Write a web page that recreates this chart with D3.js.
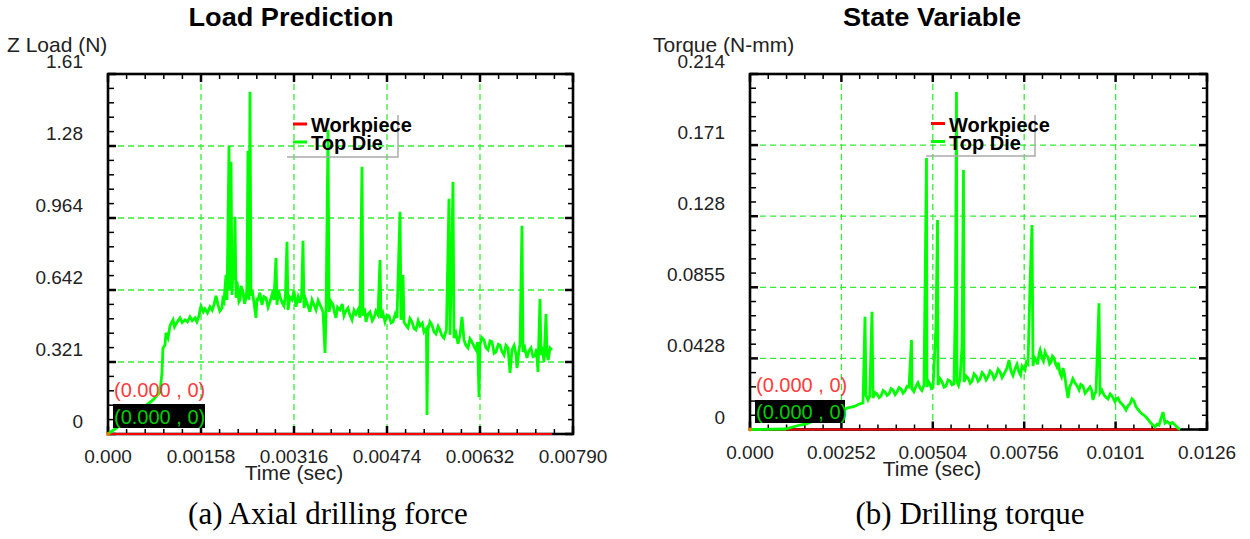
<!DOCTYPE html>
<html><head><meta charset="utf-8">
<script src="https://cdn.jsdelivr.net/npm/d3@7"></script>
<style>body{margin:0;background:#fff;} svg{display:block;}</style>
</head><body>
<svg id="c" width="1250" height="539"></svg>
<script>
// ---------- (a) Axial drilling force : Load Prediction ----------
const loadTime = [0,0.000374,0.000765,0.000883,0.000917,0.000934,0.000968,0.000985,0.001019,0.001053,0.001104,0.00113,0.001155,0.00119,0.001223,0.00126,0.001308,0.00135,0.001393,0.00143,0.001478,0.00151,0.001546,0.001563,0.00158,0.00162,0.001648,0.00169,0.001733,0.00177,0.001801,0.001835,0.001869,0.0019,0.001937,0.00195,0.001971,0.001985,0.002005,0.002015,0.002022,0.002056,0.002065,0.002073,0.00209,0.002107,0.00212,0.002141,0.002158,0.002175,0.00219,0.002209,0.002225,0.002243,0.00226,0.002294,0.00232,0.002344,0.00236,0.002378,0.002395,0.002412,0.002429,0.00245,0.00248,0.002514,0.00253,0.002548,0.00258,0.002616,0.00265,0.002684,0.00272,0.002752,0.00279,0.00282,0.002854,0.002871,0.0029,0.002922,0.00296,0.00299,0.003015,0.003041,0.003058,0.00309,0.003126,0.00316,0.003194,0.00323,0.003262,0.00329,0.003313,0.00333,0.00336,0.003398,0.00343,0.003466,0.0035,0.003534,0.00357,0.003602,0.00363,0.003653,0.003687,0.003704,0.003738,0.003755,0.00379,0.003823,0.00385,0.003873,0.0039,0.003941,0.00398,0.004009,0.00404,0.004077,0.00411,0.004145,0.00418,0.004213,0.00425,0.004281,0.004315,0.004332,0.00436,0.004383,0.00442,0.004451,0.00449,0.004519,0.00455,0.004587,0.004621,0.004638,0.00467,0.004706,0.00474,0.004774,0.00481,0.004842,0.00488,0.00491,0.004961,0.004978,0.005012,0.005029,0.00506,0.005097,0.00513,0.005165,0.0052,0.005233,0.00527,0.005301,0.00534,0.005369,0.00541,0.00542,0.005436,0.00547,0.005504,0.00554,0.005572,0.00561,0.00564,0.00567,0.005708,0.00575,0.005793,0.00581,0.005844,0.005861,0.005878,0.00591,0.005946,0.00598,0.006014,0.006048,0.00608,0.006116,0.00615,0.006184,0.00622,0.006252,0.00628,0.006303,0.00632,0.00635,0.006388,0.00642,0.006456,0.00649,0.006524,0.00656,0.006592,0.00663,0.00666,0.00669,0.006728,0.00676,0.006796,0.00683,0.006864,0.0069,0.006932,0.006949,0.006983,0.007,0.007033,0.00705,0.00708,0.007118,0.00715,0.007186,0.00722,0.007254,0.00728,0.007305,0.007339,0.007356,0.00738,0.007407,0.007441,0.007458,0.00748,0.007509,0.007543];
const loadTopDie = [0,0.071,0.152,0.187,0.272,0.384,0.397,0.451,0.428,0.482,0.509,0.478,0.491,0.505,0.518,0.497,0.509,0.500,0.522,0.505,0.518,0.500,0.527,0.553,0.571,0.545,0.558,0.540,0.567,0.552,0.576,0.616,0.576,0.548,0.562,0.600,0.589,0.640,0.709,0.620,0.598,1.285,0.690,0.643,1.214,0.620,0.720,0.687,0.968,0.607,0.680,0.643,0.590,0.598,0.660,0.629,0.580,0.607,0.650,1.263,0.598,1.526,0.616,0.640,0.585,0.518,0.600,0.598,0.630,0.576,0.612,0.607,0.565,0.589,0.625,0.598,0.785,0.576,0.640,0.611,0.585,0.571,0.620,0.857,0.553,0.610,0.598,0.640,0.567,0.612,0.585,0.625,0.861,0.562,0.600,0.571,0.545,0.598,0.575,0.553,0.595,0.576,0.560,0.544,0.361,0.531,1.356,0.544,0.590,0.576,0.540,0.518,0.565,0.553,0.580,0.527,0.548,0.562,0.530,0.509,0.552,0.535,0.555,0.518,1.191,0.527,0.560,0.500,0.535,0.544,0.505,0.518,0.548,0.531,0.776,0.518,0.540,0.500,0.530,0.527,0.495,0.500,0.535,0.518,0.991,0.509,0.709,0.500,0.485,0.473,0.515,0.500,0.470,0.464,0.505,0.482,0.495,0.455,0.470,0.085,0.464,0.500,0.486,0.455,0.446,0.480,0.464,0.440,0.428,0.465,1.049,0.442,0.857,1.124,0.428,0.450,0.402,0.440,0.522,0.419,0.395,0.384,0.425,0.411,0.390,0.375,0.410,0.165,0.397,0.430,0.419,0.385,0.375,0.415,0.411,0.360,0.366,0.400,0.397,0.370,0.352,0.395,0.384,0.272,0.375,0.395,0.352,0.294,0.375,0.400,0.928,0.366,0.385,0.339,0.370,0.384,0.345,0.348,0.380,0.277,0.602,0.352,0.390,0.321,0.535,0.352,0.330,0.384,0.375];
const loadWorkpieceTime = [0, 0.007543];
const loadWorkpiece = [0, 0];
const loadXTicks = [0, 0.00158, 0.00316, 0.00474, 0.00632, 0.0079];
const loadXLabels = ["0.000", "0.00158", "0.00316", "0.00474", "0.00632", "0.00790"];
const loadYTicks = [0, 0.321, 0.642, 0.963, 1.284, 1.605];
const loadYLabels = ["0", "0.321", "0.642", "0.964", "1.28", "1.61"];

// ---------- (b) Drilling torque : State Variable ----------
const torqueTime = [0,0.000965,0.001379,0.00158,0.001792,0.002,0.002206,0.00235,0.002481,0.002674,0.00279,0.002895,0.003,0.003116,0.003171,0.003198,0.003253,0.0033,0.003364,0.003391,0.00345,0.003502,0.00356,0.003612,0.00367,0.003722,0.00378,0.003832,0.00389,0.003943,0.004,0.004053,0.00411,0.004163,0.00422,0.004274,0.00433,0.004384,0.004453,0.004467,0.00452,0.004577,0.00463,0.004687,0.00474,0.004797,0.004866,0.00488,0.00492,0.004963,0.005,0.005046,0.005128,0.00517,0.005183,0.00524,0.005294,0.00535,0.005404,0.00546,0.005514,0.00557,0.005624,0.005666,0.005693,0.005707,0.00575,0.00579,0.005845,0.005886,0.0059,0.00596,0.006011,0.00607,0.006121,0.00618,0.006231,0.00629,0.006341,0.0064,0.006452,0.00651,0.006562,0.00662,0.006672,0.00673,0.006782,0.00684,0.006893,0.00695,0.007003,0.007086,0.007141,0.007196,0.00725,0.007306,0.00736,0.007417,0.00746,0.007499,0.007582,0.00762,0.007665,0.00772,0.007775,0.007803,0.00784,0.007885,0.00793,0.007968,0.008,0.008051,0.00809,0.008133,0.00817,0.008216,0.00826,0.008299,0.00834,0.008382,0.00842,0.008464,0.0085,0.008547,0.00859,0.00863,0.00867,0.008712,0.008768,0.00881,0.00885,0.0089,0.008961,0.00902,0.009071,0.00912,0.009181,0.00924,0.009291,0.009374,0.00942,0.009457,0.0095,0.00954,0.009622,0.00965,0.0097,0.00976,0.00981,0.00987,0.00993,0.009981,0.010063,0.0101,0.010146,0.0102,0.010256,0.01031,0.010367,0.01042,0.010477,0.01053,0.010587,0.01063,0.01067,0.01073,0.01078,0.01084,0.01089,0.01096,0.011028,0.0111,0.011166,0.01122,0.011277,0.011387,0.011442,0.0115,0.01158,0.01165,0.011718,0.01178,0.011856];
const torqueTopDie = [0,0.0003,0.0027,0.0035,0.0057,0.0066,0.0081,0.0092,0.0099,0.0129,0.0135,0.0141,0.0152,0.016,0.0679,0.0208,0.0178,0.02,0.0709,0.019,0.0222,0.0214,0.0192,0.0202,0.0235,0.0226,0.0205,0.0214,0.0246,0.0238,0.021,0.0226,0.0252,0.0244,0.0218,0.0232,0.026,0.0256,0.0539,0.0244,0.0228,0.0262,0.0282,0.025,0.0235,0.0268,0.1634,0.0256,0.029,0.0274,0.0248,0.0256,0.0619,0.1261,0.0268,0.0305,0.0286,0.0255,0.0262,0.0298,0.0292,0.0268,0.0274,0.081,0.2032,0.0286,0.0265,0.0304,0.0498,0.1562,0.0286,0.0322,0.031,0.0278,0.0292,0.0335,0.0322,0.029,0.0304,0.0342,0.0328,0.0298,0.0316,0.0352,0.034,0.0305,0.0322,0.0362,0.0346,0.0312,0.0334,0.037,0.0418,0.0352,0.0325,0.0364,0.0392,0.0346,0.0328,0.0382,0.0358,0.0405,0.0394,0.087,0.1231,0.0382,0.0435,0.0418,0.0392,0.0454,0.0478,0.043,0.0412,0.0467,0.0448,0.0436,0.0395,0.0406,0.0442,0.043,0.0398,0.0376,0.0402,0.034,0.0318,0.037,0.0335,0.0268,0.019,0.0255,0.0274,0.0305,0.028,0.0262,0.0238,0.0272,0.0262,0.0218,0.0232,0.0256,0.0235,0.0178,0.0215,0.0226,0.076,0.022,0.0238,0.0208,0.0195,0.0184,0.0215,0.0202,0.0166,0.0185,0.019,0.0165,0.0154,0.0138,0.0117,0.0142,0.0154,0.0185,0.0172,0.0142,0.0129,0.0112,0.0099,0.009,0.0081,0.0065,0.0045,0.0028,0.0015,0.0032,0.0027,0.0105,0.0039,0.0048,0.0033,0.0042,0.0027,0.0012,0];
const torqueWorkpieceTime = [0, 0.011856];
const torqueWorkpiece = [0, 0];
const torqueXTicks = [0, 0.00252, 0.00504, 0.00756, 0.01008, 0.0126];
const torqueXLabels = ["0.000", "0.00252", "0.00504", "0.00756", "0.0101", "0.0126"];
const torqueYTicks = [0, 0.0428, 0.0856, 0.1284, 0.1712, 0.214];
const torqueYLabels = ["0", "0.0428", "0.0855", "0.128", "0.171", "0.214"];

const seriesNames = ["Workpiece", "Top Die"];
const seriesColors = ["#ff0000", "#00ff00"];

const svg = d3.select("#c");
const SANS = "'Liberation Sans', Arial, sans-serif";

function drawPanel(p) {
  const g = svg.append("g");
  const x = d3.scaleLinear().domain([p.xTicks[0], p.xTicks[p.xTicks.length-1]]).range([p.left, p.right]);
  const y = d3.scaleLinear().domain([p.yTicks[0], p.yTicks[p.yTicks.length-1]]).range([p.bottom, p.top]);

  // grid
  const grid = g.append("g").attr("stroke", "#33ee33").attr("stroke-width", 1.3).attr("stroke-dasharray", "6,4");
  p.xTicks.slice(1, -1).forEach(v => grid.append("line").attr("x1", x(v)).attr("x2", x(v)).attr("y1", p.top).attr("y2", p.bottom));
  p.yTicks.slice(1, -1).forEach(v => grid.append("line").attr("x1", p.left).attr("x2", p.right).attr("y1", y(v)).attr("y2", y(v)));

  // minor + major ticks
  const tk = g.append("g").attr("stroke", "#000");
  const minorX = [], minorY = [];
  for (let i = 0; i < p.xTicks.length - 1; i++) for (let k = 1; k < 5; k++) minorX.push(p.xTicks[i] + (p.xTicks[i+1]-p.xTicks[i])*k/5);
  for (let i = 0; i < p.yTicks.length - 1; i++) for (let k = 1; k < 5; k++) minorY.push(p.yTicks[i] + (p.yTicks[i+1]-p.yTicks[i])*k/5);
  minorX.forEach(v => {
    tk.append("line").attr("x1", x(v)).attr("x2", x(v)).attr("y1", p.bottom).attr("y2", p.bottom-5).attr("stroke-width", 1.5);
    tk.append("line").attr("x1", x(v)).attr("x2", x(v)).attr("y1", p.top).attr("y2", p.top+5).attr("stroke-width", 1.5);
  });
  minorY.forEach(v => {
    tk.append("line").attr("y1", y(v)).attr("y2", y(v)).attr("x1", p.left).attr("x2", p.left+6).attr("stroke-width", 1.5);
    tk.append("line").attr("y1", y(v)).attr("y2", y(v)).attr("x1", p.right).attr("x2", p.right-5).attr("stroke-width", 1.5);
  });
  p.xTicks.forEach(v => {
    tk.append("line").attr("x1", x(v)).attr("x2", x(v)).attr("y1", p.bottom).attr("y2", p.bottom-8).attr("stroke-width", 2.5);
    tk.append("line").attr("x1", x(v)).attr("x2", x(v)).attr("y1", p.top).attr("y2", p.top+8).attr("stroke-width", 2.5);
  });
  p.yTicks.forEach(v => {
    tk.append("line").attr("y1", y(v)).attr("y2", y(v)).attr("x1", p.left).attr("x2", p.left+8).attr("stroke-width", 2.5);
    tk.append("line").attr("y1", y(v)).attr("y2", y(v)).attr("x1", p.right).attr("x2", p.right-8).attr("stroke-width", 2.5);
  });
  // frame
  g.append("rect").attr("x", p.left).attr("y", p.top).attr("width", p.right-p.left).attr("height", p.bottom-p.top)
    .attr("fill", "none").attr("stroke", "#000").attr("stroke-width", 2.6);

  // tick labels
  p.xTicks.forEach((v, i) => g.append("text").attr("x", x(v)).attr("y", p.bottom + 29).attr("text-anchor", "middle")
    .attr("font-family", SANS).attr("font-size", 19).attr("fill", "#222").text(p.xLabels[i]));
  p.yTicks.forEach((v, i) => g.append("text").attr("x", p.left - 25).attr("y", y(v) - 6).attr("text-anchor", "end")
    .attr("font-family", SANS).attr("font-size", 19).attr("fill", "#222").text(p.yLabels[i]));

  // titles
  g.append("text").attr("x", p.titleX).attr("y", 26).attr("text-anchor", "middle").attr("font-family", SANS)
    .attr("font-weight", "bold").attr("font-size", 25).attr("textLength", p.titleLen).attr("lengthAdjust", "spacingAndGlyphs").text(p.title);
  g.append("text").attr("x", p.yTitleX).attr("y", 52).attr("font-family", SANS).attr("font-size", 21).attr("fill", "#222").text(p.yTitle);
  g.append("text").attr("x", p.xTitleX).attr("y", p.bottom + 46).attr("text-anchor", "middle").attr("font-family", SANS)
    .attr("font-size", 21).attr("fill", "#222").text("Time (sec)");
  g.append("text").attr("x", p.captionX).attr("y", 524).attr("text-anchor", "middle")
    .attr("font-family", "'Liberation Serif', 'Times New Roman', serif").attr("font-size", 31).attr("fill", "#000").text(p.caption);

  // series
  const line = d3.line().x(d => x(d[0])).y(d => y(d[1]));
  g.append("path").datum(p.wpT.map((t, i) => [t, p.wpV[i]])).attr("d", line).attr("fill", "none")
    .attr("stroke", seriesColors[0]).attr("stroke-width", 2.2);
  g.append("path").datum(p.tdT.map((t, i) => [t, p.tdV[i]])).attr("d", line).attr("fill", "none")
    .attr("stroke", seriesColors[1]).attr("stroke-width", 2.8).attr("stroke-linejoin", "miter");
  g.append("circle").attr("cx", x(0)).attr("cy", y(0)).attr("r", 2).attr("fill", "#e08000");

  // origin annotations
  const a = p.ann;
  g.append("text").attr("x", a.x + 1).attr("y", a.redY).attr("font-family", SANS).attr("font-size", 20)
    .attr("fill", "#ff3b3b").text("(0.000 , 0)");
  g.append("rect").attr("x", a.x).attr("y", a.boxTop).attr("width", a.boxW).attr("height", a.boxH).attr("fill", "#000");
  g.append("text").attr("x", a.x + 1).attr("y", a.boxTop + a.boxH - 4).attr("font-family", SANS).attr("font-size", 20)
    .attr("fill", "#00cc00").text("(0.000 , 0)");

  // legend
  const L = p.leg;
  g.append("polyline").attr("points", `${L.bx0},${L.by1} ${L.bx1},${L.by1} ${L.bx1},${L.by0}`)
    .attr("fill", "none").attr("stroke", "#aaa").attr("stroke-width", 1.5);
  seriesNames.forEach((n, i) => {
    const yy = L.y0 + i * 18;
    g.append("line").attr("x1", L.dx0).attr("x2", L.dx0 + 14).attr("y1", yy).attr("y2", yy)
      .attr("stroke", seriesColors[i]).attr("stroke-width", 3);
    g.append("text").attr("x", L.tx).attr("y", yy + 8).attr("font-family", SANS).attr("font-weight", "bold")
      .attr("font-size", 20).attr("fill", "#000").text(n);
  });
}

drawPanel({
  left: 108, right: 573, top: 74, bottom: 434,
  xTicks: loadXTicks, xLabels: loadXLabels, yTicks: loadYTicks, yLabels: loadYLabels,
  title: "Load Prediction", titleX: 291, titleLen: 205,
  yTitle: "Z Load (N)", yTitleX: 7, xTitleX: 294,
  caption: "(a) Axial drilling force", captionX: 328,
  wpT: loadWorkpieceTime, wpV: loadWorkpiece, tdT: loadTime, tdV: loadTopDie,
  ann: {x: 113, redY: 397, boxTop: 404, boxW: 92, boxH: 24},
  leg: {bx0: 287, bx1: 398, by0: 115, by1: 157, dx0: 293, tx: 311, y0: 124}
});
drawPanel({
  left: 750, right: 1207, top: 74, bottom: 429.5,
  xTicks: torqueXTicks, xLabels: torqueXLabels, yTicks: torqueYTicks, yLabels: torqueYLabels,
  title: "State Variable", titleX: 932, titleLen: 178,
  yTitle: "Torque (N-mm)", yTitleX: 653, xTitleX: 932,
  caption: "(b) Drilling torque", captionX: 970,
  wpT: torqueWorkpieceTime, wpV: torqueWorkpiece, tdT: torqueTime, tdV: torqueTopDie,
  ann: {x: 755, redY: 392, boxTop: 400, boxW: 90, boxH: 23},
  leg: {bx0: 926, bx1: 1035, by0: 115, by1: 156, dx0: 931, tx: 949, y0: 123.5}
});
</script>
</body></html>
